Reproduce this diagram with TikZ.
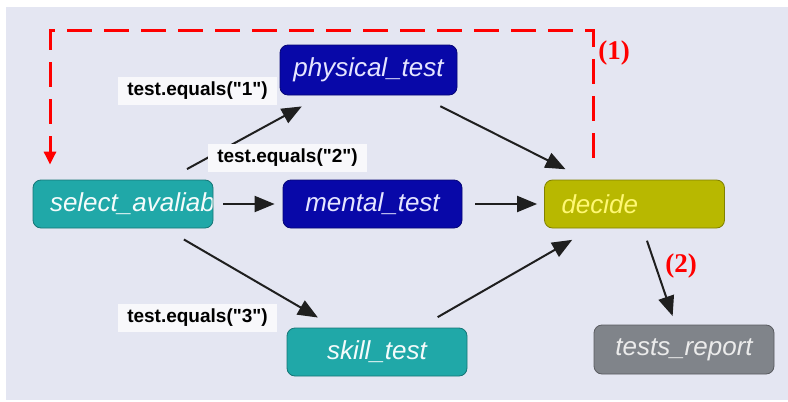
\documentclass[tikz,border=0pt]{standalone}
\usepackage{fontspec}
\newfontfamily\lsans{Liberation Sans}
\newfontfamily\lserif{Liberation Serif}
\usetikzlibrary{arrows.meta}
\definecolor{bgc}{HTML}{E4E6F2}
\definecolor{dblue}{HTML}{0808A8}
\definecolor{teal2}{HTML}{20A8A8}
\definecolor{olive2}{HTML}{B8B800}
\definecolor{grey2}{HTML}{80848A}
\definecolor{lblbg}{HTML}{F8F8FB}
\tikzset{
  box/.style={rectangle, rounded corners=8pt, draw=#1!70!black, line width=0.8pt, fill=#1,
    inner sep=0pt, minimum width=179pt, minimum height=48pt,
    font=\lsans\itshape\fontsize{26}{26}\selectfont},
  lbl/.style={fill=lblbg, inner sep=3pt, minimum width=159pt, minimum height=28pt,
    font=\lsans\bfseries\fontsize{19}{19}\selectfont},
  conn/.style={line width=2pt, draw=black!88, -{Triangle[length=20pt,width=16pt]}},
  reddash/.style={line width=3pt, draw=red, dash pattern=on 25pt off 12pt,
    -{Triangle[length=13pt,width=12pt]}},
  rednum/.style={text=red, font=\lserif\bfseries\fontsize{27}{27}\selectfont}
}
\begin{document}
\begin{tikzpicture}[x=1pt,y=-1pt]
\useasboundingbox (0,0) rectangle (788,402);
\fill[bgc] (6,7) rectangle (788,400);
% nodes
\node[box=dblue, text=blue!10!white, minimum width=177pt, minimum height=50pt] (phys) at (368.5,70) {physical\_test};
\node[box=teal2, minimum width=180pt,
  path picture={\node[anchor=west, inner sep=0pt, text=white!95!teal2, font=\lsans\itshape\fontsize{26}{26}\selectfont]
    at ([xshift=9pt]path picture bounding box.west) {select\_avaliab};}] (sel) at (123,204) {};
\node[box=dblue, text=blue!10!white] (ment) at (372.5,204) {mental\_test};
\node[box=olive2, text=yellow!55!white, minimum width=180pt] (dec) at (634.5,204) {\makebox[180pt][l]{\hspace{17pt}decide}};
\node[box=teal2, text=white!95!teal2, minimum width=180pt] (skill) at (377,352) {skill\_test};
\node[box=grey2, text=white!92!black, minimum width=180pt, minimum height=49pt] (rep) at (684,349.5) {tests\_report};
% connectors
\draw[conn, shorten <=22pt, shorten >=23pt] (sel) -- (phys);
\draw[conn, shorten <=10pt, shorten >=8pt] (sel.east) -- (ment.west);
\draw[conn, shorten <=22pt, shorten >=20pt] (sel) -- (skill);
\draw[conn, shorten <=24pt, shorten >=23pt] (phys) -- (dec);
\draw[conn, shorten <=13pt, shorten >=7pt] (ment.east) -- (dec.west);
\draw[conn, shorten <=21pt, shorten >=23pt] (skill) -- (dec);
\draw[conn, shorten <=13pt, shorten >=9pt] (dec) -- (rep);
% labels
\node[lbl] (l1) at (197.5,91) {test.equals("1")};
\node[lbl] (l2) at (287.5,158) {test.equals("2")};
\node[lbl] (l3) at (197.5,318) {test.equals("3")};
% red loop
\coordinate (c1) at (593,30);
\coordinate (c2) at (50,30);
\draw[reddash] ([yshift=22pt]dec.north -| c1) -- (c1) -- (c2) -- ([yshift=15pt]sel.north -| c2);
\node[rednum] (n1) at (614,53) {(1)};
\node[rednum] (n2) at (681,266) {(2)};
\end{tikzpicture}
\end{document}
